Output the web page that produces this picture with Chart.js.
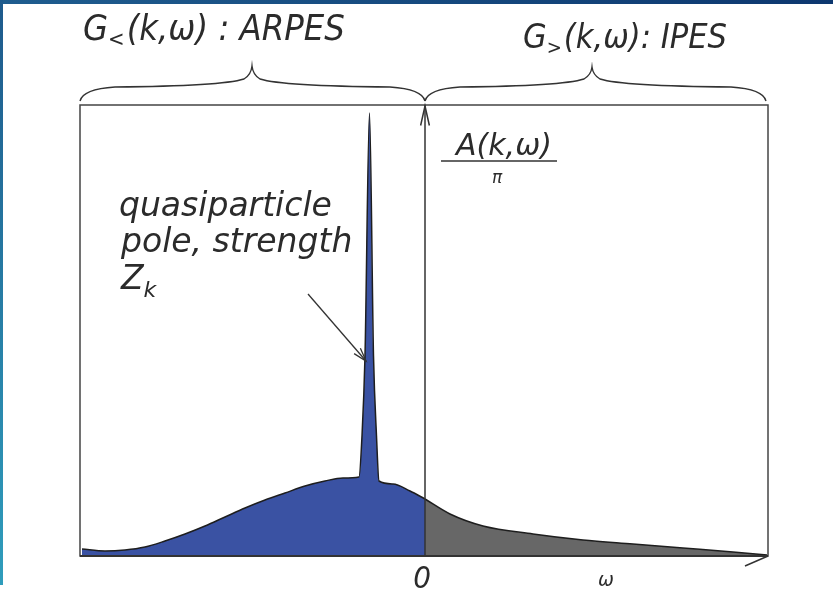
<!DOCTYPE html>
<html>
<head>
<meta charset="utf-8">
<title>Spectral function A(k,ω)</title>
<script src="https://cdn.jsdelivr.net/npm/chart.js@4.4.1/dist/chart.umd.min.js"></script>
<style>
  html, body { margin: 0; padding: 0; background: #fff; overflow: hidden; }
  canvas { display: block; }
</style>
</head>
<body>
<canvas id="chart" width="833" height="592"></canvas>
<script>
// occupied side (ω < 0): photoemission, quasiparticle pole sits on top of incoherent hump
const omegaOcc = [-3.43, -3.2, -3.0, -2.8, -2.6, -2.4, -2.2, -2.0, -1.8, -1.6, -1.4, -1.2, -1.0, -0.82, -0.66, -0.63, -0.6, -0.555, -0.515, -0.485, -0.46, -0.32, -0.15, 0];
const specOcc  = [0.07, 0.05, 0.06, 0.09, 0.15, 0.22, 0.30, 0.39, 0.48, 0.56, 0.63, 0.70, 0.75, 0.78, 0.79, 1.2, 2.0, 4.43, 2.0, 1.2, 0.75, 0.72, 0.65, 0.57];
// unoccupied side (ω > 0): inverse photoemission tail
const omegaUnocc = [0, 0.25, 0.58, 1.08, 1.58, 2.08, 2.58, 3.08, 3.42];
const specUnocc  = [0.57, 0.42, 0.30, 0.22, 0.16, 0.12, 0.08, 0.04, 0.01];

const OMEGA_MIN = -3.45, OMEGA_MAX = 3.43, A_MAX = 4.51;

const INK = '#2b2b2b';
const SANS = "'DejaVu Sans', sans-serif";
const NARROW = "'Liberation Sans Narrow', 'DejaVu Sans Condensed', sans-serif";

function toXY(xs, ys) { return xs.map((x, i) => ({ x: x, y: ys[i] })); }

function arrowHead(ctx, x0, y0, x1, y1, len, spread) {
  const a = Math.atan2(y1 - y0, x1 - x0);
  ctx.beginPath();
  ctx.moveTo(x1 - len * Math.cos(a - spread), y1 - len * Math.sin(a - spread));
  ctx.lineTo(x1, y1);
  ctx.lineTo(x1 - len * Math.cos(a + spread), y1 - len * Math.sin(a + spread));
  ctx.stroke();
}

function brace(ctx, x1, x2, yBase, xTip, yTip) {
  const yMid = yBase - 12;
  ctx.beginPath();
  ctx.moveTo(x1, yBase);
  ctx.quadraticCurveTo(x1 + 3, yMid, x1 + 35, yMid - 2);
  ctx.quadraticCurveTo(xTip - 30, yMid - 3, xTip - 8, yMid - 10);
  ctx.quadraticCurveTo(xTip - 1, yMid - 14, xTip, yTip);
  ctx.quadraticCurveTo(xTip + 1, yMid - 14, xTip + 8, yMid - 10);
  ctx.quadraticCurveTo(xTip + 30, yMid - 3, x2 - 35, yMid - 2);
  ctx.quadraticCurveTo(x2 - 3, yMid, x2, yBase);
  ctx.stroke();
}

// G with a < or > subscript, then the rest of the label
function greenLabel(ctx, x, y, sub, rest, size) {
  ctx.font = 'italic ' + size + 'px ' + NARROW;
  ctx.fillText('G', x, y);
  let w = ctx.measureText('G').width;
  ctx.font = 'italic ' + Math.round(size * 0.6) + 'px ' + NARROW;
  ctx.fillText(sub, x + w, y + 6);
  w += ctx.measureText(sub).width + 2;
  ctx.font = 'italic ' + size + 'px ' + NARROW;
  ctx.fillText(rest, x + w, y);
}

const framePlugin = {
  id: 'frame',
  beforeDraw(chart) {
    const ctx = chart.ctx;
    ctx.save();
    ctx.fillStyle = '#fff';
    ctx.fillRect(0, 0, chart.width, chart.height);
    // slide border: top and left bars
    let g = ctx.createLinearGradient(0, 0, chart.width, 0);
    g.addColorStop(0, '#1f5d8f');
    g.addColorStop(1, '#0d376f');
    ctx.fillStyle = g;
    ctx.fillRect(0, 0, chart.width, 4);
    g = ctx.createLinearGradient(0, 0, 0, 585);
    g.addColorStop(0, '#1e5a8c');
    g.addColorStop(1, '#2f9dbc');
    ctx.fillStyle = g;
    ctx.fillRect(0, 0, 3, 585);
    ctx.restore();
  },
  afterDraw(chart) {
    const ctx = chart.ctx;
    const { left, right, top, bottom } = chart.chartArea;
    const xs = chart.scales.x, ys = chart.scales.y;
    const x0 = xs.getPixelForValue(0);
    ctx.save();
    ctx.strokeStyle = '#444';
    ctx.lineWidth = 1.5;
    // box
    ctx.strokeRect(left, top, right - left, bottom - top);
    // ω axis with arrow
    ctx.strokeStyle = '#333';
    ctx.lineWidth = 2;
    ctx.beginPath();
    ctx.moveTo(left, bottom);
    ctx.lineTo(right, bottom);
    ctx.stroke();
    ctx.lineWidth = 1.5;
    ctx.beginPath();
    ctx.moveTo(right, bottom);
    ctx.lineTo(right - 23, bottom + 10);
    ctx.stroke();
    // vertical A axis at ω = 0
    ctx.lineWidth = 1.5;
    ctx.beginPath();
    ctx.moveTo(x0, bottom);
    ctx.lineTo(x0, top);
    ctx.stroke();
    arrowHead(ctx, x0, top + 40, x0, top + 1, 20, 0.22);

    // braces over occupied and unoccupied halves
    ctx.strokeStyle = '#333';
    ctx.lineWidth = 1.4;
    brace(ctx, left, x0, top - 4, 252, 66);
    brace(ctx, x0, right - 2, top - 4, 592, 67);

    ctx.fillStyle = INK;
    ctx.textBaseline = 'alphabetic';
    ctx.textAlign = 'left';
    greenLabel(ctx, 83, 40, '<', '(k,ω) : ARPES', 36);
    greenLabel(ctx, 523, 48, '>', '(k,ω): IPES', 34);

    // A(k,ω)/π
    ctx.textAlign = 'center';
    ctx.font = 'italic 30px ' + SANS;
    ctx.fillText('A(k,ω)', 504, 155);
    ctx.lineWidth = 1.5;
    ctx.beginPath();
    ctx.moveTo(441, 161);
    ctx.lineTo(557, 161);
    ctx.stroke();
    ctx.font = 'italic 17px ' + SANS;
    ctx.fillText('π', 497, 183);

    // quasiparticle note
    ctx.textAlign = 'left';
    ctx.font = 'italic 33px ' + SANS;
    ctx.fillText('quasiparticle', 119, 216);
    ctx.fillText('pole, strength', 121, 252);
    ctx.fillText('Z', 121, 289);
    const zw = ctx.measureText('Z').width;
    ctx.font = 'italic 22px ' + SANS;
    ctx.fillText('k', 121 + zw, 297);

    // arrow to the pole
    const tx = xs.getPixelForValue(-0.59), ty = ys.getPixelForValue(1.95);
    ctx.strokeStyle = '#333';
    ctx.lineWidth = 1.3;
    ctx.beginPath();
    ctx.moveTo(308, 294);
    ctx.lineTo(tx, ty);
    ctx.stroke();
    arrowHead(ctx, 308, 294, tx, ty, 14, 0.3);

    // axis labels
    ctx.textAlign = 'center';
    ctx.font = 'italic 31px ' + NARROW;
    ctx.fillText('0', x0 - 3, 588);
    ctx.font = 'italic 19px ' + SANS;
    ctx.fillText('ω', 606, 586);
    ctx.restore();
  }
};

const ctx = document.getElementById('chart').getContext('2d');
const chart = new Chart(ctx, {
  type: 'line',
  data: {
    datasets: [
      {
        label: 'occupied',
        data: toXY(omegaOcc, specOcc),
        backgroundColor: '#3a52a3',
        borderColor: '#1e1e1e',
        borderWidth: 1.5,
        fill: 'origin',
        pointRadius: 0,
        cubicInterpolationMode: 'monotone'
      },
      {
        label: 'unoccupied',
        data: toXY(omegaUnocc, specUnocc),
        backgroundColor: '#676767',
        borderColor: '#1e1e1e',
        borderWidth: 1.5,
        fill: 'origin',
        pointRadius: 0,
        cubicInterpolationMode: 'monotone'
      }
    ]
  },
  options: {
    responsive: false,
    animation: false,
    devicePixelRatio: 1,
    layout: { padding: { left: 80, right: 65, top: 105, bottom: 36 } },
    plugins: { legend: { display: false }, tooltip: { enabled: false } },
    scales: {
      x: { type: 'linear', min: OMEGA_MIN, max: OMEGA_MAX, display: false },
      y: { min: 0, max: A_MAX, display: false }
    }
  },
  plugins: [framePlugin]
});
</script>
</body>
</html>
